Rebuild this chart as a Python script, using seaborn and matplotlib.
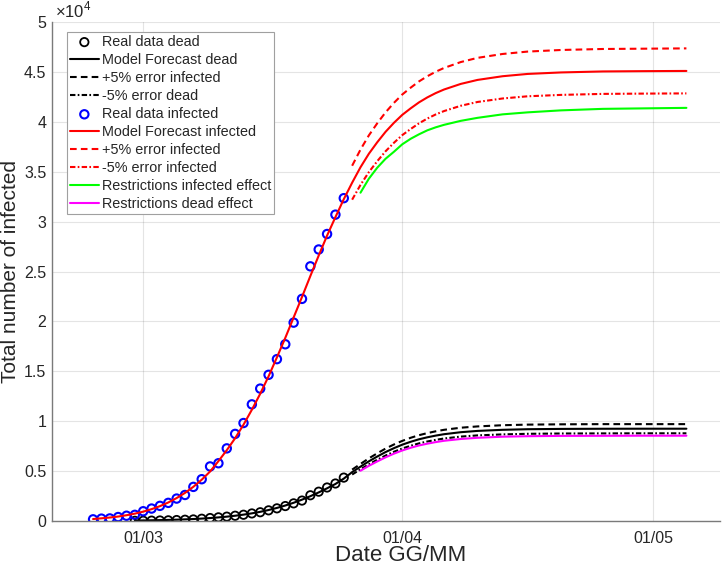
import numpy as np
import pandas as pd
import matplotlib
matplotlib.use("Agg")
import matplotlib.pyplot as plt
import matplotlib.dates as mdates
from matplotlib.ticker import FuncFormatter, MultipleLocator
import seaborn as sns

# ---- data ----
inf_dates = pd.date_range("2020-02-24", "2020-03-25", freq="D")
dead_dates = pd.date_range("2020-02-29", "2020-03-25", freq="D")
fc_dates = pd.to_datetime([
    "2020-03-26", "2020-03-27", "2020-03-28", "2020-03-29", "2020-03-30",
    "2020-03-31", "2020-04-01", "2020-04-02", "2020-04-03", "2020-04-04",
    "2020-04-05", "2020-04-06", "2020-04-08", "2020-04-10", "2020-04-13",
    "2020-04-16", "2020-04-20", "2020-04-25", "2020-04-30", "2020-05-05",
])
restr_dates = fc_dates[1:]

real_infected = [170, 240, 260, 400, 530, 620, 980, 1250, 1520, 1820, 2250,
                 2610, 3420, 4190, 5470, 5790, 7280, 8730, 9820, 11690, 13270,
                 14650, 16220, 17710, 19880, 22260, 25520, 27210, 28760, 30700,
                 32350]
real_dead = [20, 30, 40, 55, 70, 100, 130, 160, 230, 300, 370, 440, 530, 630,
             760, 880, 1070, 1270, 1500, 1770, 2050, 2580, 2940, 3360, 3760,
             4350]

model_infected = [200, 270, 350, 450, 580, 740, 940, 1190, 1490, 1860, 2300,
                  2820, 3430, 4140, 4960, 6000, 7100, 8300, 9650, 11150, 12750,
                  14500, 16400, 18350, 20400, 22450, 24550, 26600, 28600, 30450,
                  32250,
                  33900, 35450, 36800, 37950, 39000, 39900, 40700, 41350, 41950,
                  42450, 42880, 43240, 43800, 44200, 44570, 44800, 44950, 45050,
                  45080, 45100]
plus_infected = [35600, 37220, 38640, 39850, 40950, 41900, 42740, 43420, 44050,
                 44570, 45020, 45400, 45990, 46410, 46800, 47040, 47200, 47300,
                 47330, 47360]
minus_infected = [32200, 33680, 34960, 36050, 37050, 37900, 38670, 39280, 39850,
                  40330, 40740, 41080, 41610, 41990, 42340, 42560, 42700, 42800,
                  42830, 42850]
restr_infected = [32900, 34300, 35400, 36300, 37000, 37750, 38300, 38750, 39150,
                  39450, 39700, 40100, 40400, 40750, 40950, 41150, 41300, 41350,
                  41400]

model_dead = [50, 62, 75, 92, 112, 137, 166, 202, 246, 298, 363, 438, 531, 640,
              770, 922, 1103, 1312, 1555, 1830, 2141, 2488, 2868, 3278, 3712,
              4250,
              4900, 5450, 5980, 6460, 6910, 7300, 7650, 7940, 8190, 8390, 8560,
              8700, 8900, 9030, 9140, 9200, 9230, 9245, 9250, 9250]
plus_dead = [5150, 5720, 6280, 6780, 7260, 7670, 8030, 8340, 8600, 8810, 8990,
             9140, 9350, 9480, 9600, 9660, 9690, 9710, 9710, 9710]
minus_dead = [4660, 5180, 5680, 6140, 6560, 6940, 7270, 7540, 7780, 7970, 8130,
              8270, 8460, 8580, 8680, 8740, 8770, 8780, 8790, 8790]
restr_dead = [5040, 5530, 5970, 6380, 6750, 7070, 7340, 7570, 7750, 7910, 8040,
              8220, 8340, 8450, 8500, 8530, 8540, 8550, 8550]

model_dead_dates = dead_dates.append(fc_dates)
model_inf_dates = inf_dates.append(fc_dates)

# ---- style ----
sns.set_style("white")
plt.rcParams["font.family"] = ["Liberation Sans", "DejaVu Sans"]
plt.rcParams["mathtext.fontset"] = "custom"
plt.rcParams["mathtext.rm"] = "Liberation Sans"
ink = "#262626"

fig = plt.figure(figsize=(7.22, 5.68), dpi=100)
ax = fig.add_axes([0.072, 0.0827, 0.925, 0.8785])

lw = 1.5
dash = (0, (3.2, 2.0))
dashdot = (0, (2.6, 1.1, 0.8, 1.1))

sns.scatterplot(x=dead_dates, y=real_dead, marker="o", s=36, facecolor="none",
                edgecolor="black", linewidth=1.3, label="Real data dead", ax=ax)
sns.lineplot(x=model_dead_dates, y=model_dead, color="black", linewidth=lw,
             estimator=None, label="Model Forecast dead", ax=ax)
sns.lineplot(x=fc_dates, y=plus_dead, color="black", linewidth=lw,
             linestyle=dash, estimator=None, label="+5% error infected", ax=ax)
sns.lineplot(x=fc_dates, y=minus_dead, color="black", linewidth=lw,
             linestyle=dashdot, estimator=None, label="-5% error dead", ax=ax)

sns.scatterplot(x=inf_dates, y=real_infected, marker="o", s=36, facecolor="none",
                edgecolor="#0000ff", linewidth=1.5, label="Real data infected", ax=ax)
sns.lineplot(x=model_inf_dates, y=model_infected, color="#ff0000", linewidth=lw,
             estimator=None, label="Model Forecast infected", ax=ax)
sns.lineplot(x=fc_dates, y=plus_infected, color="#ff0000", linewidth=lw,
             linestyle=dash, estimator=None, label="+5% error infected", ax=ax)
sns.lineplot(x=fc_dates, y=minus_infected, color="#ff0000", linewidth=lw,
             linestyle=dashdot, estimator=None, label="-5% error infected", ax=ax)
sns.lineplot(x=restr_dates, y=restr_infected, color="#00ff00", linewidth=lw,
             estimator=None, label="Restrictions infected effect", ax=ax)
sns.lineplot(x=restr_dates, y=restr_dead, color="#ff00ff", linewidth=lw,
             estimator=None, label="Restrictions dead effect", ax=ax)

# ---- axes ----
ax.set_xlim(pd.Timestamp("2020-02-19 02:00"), pd.Timestamp("2020-05-09"))
ax.set_ylim(0, 50000)
ax.xaxis.set_major_locator(mdates.MonthLocator(bymonthday=1))
ax.xaxis.set_major_formatter(mdates.DateFormatter("%d/%m"))
ax.yaxis.set_major_locator(MultipleLocator(5000))
ax.yaxis.set_major_formatter(FuncFormatter(lambda v, p: f"{v / 1e4:g}"))

ax.grid(True, color=ink, alpha=0.12, linewidth=0.8)
for side in ["top", "right"]:
    ax.spines[side].set_visible(False)
for side in ["left", "bottom"]:
    ax.spines[side].set_color("#7a7a7a")
    ax.spines[side].set_linewidth(1.0)
ax.tick_params(direction="in", length=4, width=0.8, color="#7a7a7a",
               labelcolor=ink, labelsize=11.5)
ax.tick_params(axis="x", pad=7)
ax.tick_params(axis="y", pad=4)

ax.set_xlabel("Date GG/MM", fontsize=16, color=ink)
ax.xaxis.set_label_coords((401 - 52) / 668, -0.049)
ax.set_ylabel("Total number of infected", fontsize=15, color=ink)
ax.yaxis.set_label_coords(-0.048, 0.5)
ax.text(0.004, 1.004, r"$\times10^{4}$", transform=ax.transAxes,
        fontsize=12, color=ink, ha="left", va="bottom")

leg = ax.legend(loc="upper left", bbox_to_anchor=(0.0225, 0.98), fontsize=10.4,
                frameon=True, fancybox=False, edgecolor="#a0a0a0",
                handlelength=2.0, handletextpad=0.2, labelspacing=0.28,
                borderpad=0.2, borderaxespad=0.0, framealpha=1)
leg.get_frame().set_linewidth(0.8)

fig.savefig("out.png", dpi=100)
